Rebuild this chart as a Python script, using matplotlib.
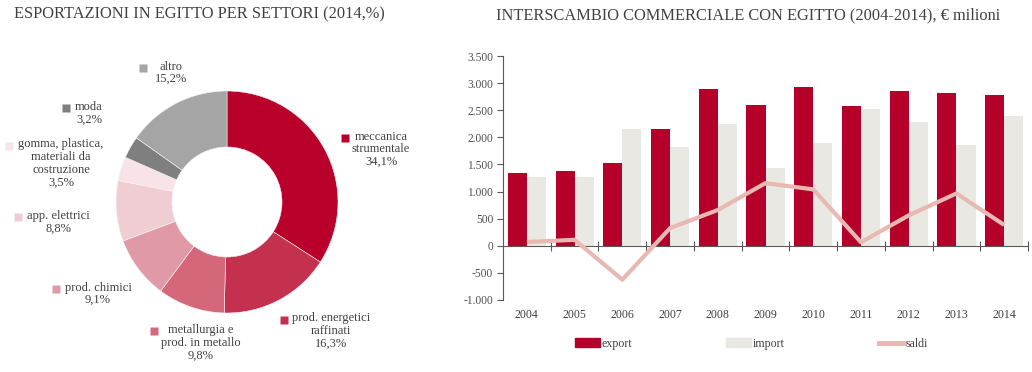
import numpy as np
import matplotlib
matplotlib.use("Agg")
import matplotlib.pyplot as plt
from matplotlib.ticker import FuncFormatter
from matplotlib.patches import Patch
from matplotlib.lines import Line2D

plt.rcParams['font.family'] = ['Liberation Serif', 'DejaVu Serif']

# dati: esportazioni per settore (2014, %)
settori = ["meccanica\nstrumentale", "prod. energetici\nraffinati",
           "metallurgia e\nprod. in metallo", "prod. chimici", "app. elettrici",
           "gomma, plastica,\nmateriali da\ncostruzione", "moda", "altro"]
quote = [34.1, 16.3, 9.8, 9.1, 8.8, 3.5, 3.2, 15.2]
colori_pie = ["#B8002A", "#C3314F", "#D4677A", "#E099A6", "#F0CDD3",
              "#F8E4E8", "#7F7F7F", "#A5A5A5"]

# dati: interscambio commerciale (milioni di euro)
anni = ["2004", "2005", "2006", "2007", "2008", "2009", "2010", "2011", "2012", "2013", "2014"]
export = [1340, 1380, 1535, 2145, 2900, 2590, 2930, 2585, 2850, 2825, 2775]
imports = [1270, 1270, 2160, 1820, 2240, 1435, 1890, 2520, 2290, 1860, 2390]
saldi = [70, 110, -625, 325, 660, 1155, 1040, 65, 560, 965, 385]

testo = "#404040"
W, H = 1032, 372
fig = plt.figure(figsize=(W / 100, H / 100), dpi=100)

# ---- torta (assi in pixel) ----
axp = fig.add_axes([0, 0, 420 / W, 1])
axp.pie(quote, colors=colori_pie, startangle=90, counterclock=False,
        center=(227, H - 202), radius=111,
        wedgeprops=dict(width=56, edgecolor="#f4f4f4", linewidth=0.4))
axp.set_xlim(0, 420)
axp.set_ylim(0, H)
axp.set_aspect('equal')
axp.axis('off')

# posizioni etichette: (marker x, marker y, centro testo x, prima riga y) in pixel
pos_etichette = [(345, 138, 381, 138), (284, 320, 331, 320), (154, 331, 201, 332),
                 (56, 289, 98, 289), (18, 217, 58, 218), (9, 146, 61, 146),
                 (66, 108, 89, 109), (143, 68, 171, 68)]
for nome, q, c, (mx, my, tx, ty) in zip(settori, quote, colori_pie, pos_etichette):
    axp.plot(mx, H - my, marker='s', ms=5.5, color=c, mec='none', clip_on=False)
    etichetta = nome + "\n" + f"{q:.1f}".replace(".", ",") + "%"
    axp.text(tx, H - ty + 7.5, etichetta, ha='center', va='top', fontsize=9,
             color=testo, linespacing=1.08, clip_on=False)

fig.text(14 / W, 1 - 14 / H, "ESPORTAZIONI IN EGITTO PER SETTORI (2014,%)",
         fontsize=11.8, color=testo, va='center', ha='left')

# ---- barre ----
x0, x1, ytop, ybot = 503, 1028, 56, 300
ax = fig.add_axes([x0 / W, (H - ybot) / H, (x1 - x0) / W, (ybot - ytop) / H])
x = np.arange(len(anni))
w = 0.4
ax.bar(x - w / 2, export, w, color="#B5002A", zorder=2)
ax.bar(x + w / 2, imports, w, color="#E9E8E3", zorder=2)
ax.plot(x, saldi, color="#E8B8B2", lw=3, zorder=3, solid_capstyle='butt')

ax.set_xlim(-0.5, len(anni) - 0.5)
ax.set_ylim(-1000, 3500)
ax.set_yticks(np.arange(-1000, 3501, 500))
ax.yaxis.set_major_formatter(FuncFormatter(lambda v, p: f"{int(v):,}".replace(",", ".")))
ax.tick_params(axis='y', length=4, width=0.8, color="#595959", labelsize=8.3,
               labelcolor="#505050", pad=3)
ax.spines['top'].set_visible(False)
ax.spines['right'].set_visible(False)
ax.spines['left'].set_color("#595959")
ax.spines['left'].set_linewidth(0.8)
ax.spines['bottom'].set_position(('data', 0))
ax.spines['bottom'].set_color("#595959")
ax.spines['bottom'].set_linewidth(0.8)
ax.set_xticks(x + 0.5)
ax.set_xticklabels([])
ax.tick_params(axis='x', direction='inout', length=7, width=0.8, color="#595959")
ax.set_facecolor('none')
for xi, a in zip(x, anni):
    ax.text(xi, -0.062, a, transform=ax.get_xaxis_transform(), ha='center',
            va='center', fontsize=8.6, color=testo)

fig.text(496 / W, 1 - 15 / H, "INTERSCAMBIO COMMERCIALE CON EGITTO (2004-2014), € milioni",
         fontsize=11.8, color=testo, va='center', ha='left')

maniglie = [Patch(color="#B5002A"), Patch(color="#E9E8E3"),
            Line2D([], [], color="#E8B8B2", lw=3.5)]
fig.legend(maniglie, ["export", "import", "saldi"], ncol=3, frameon=False,
           loc='center left', bbox_to_anchor=(575 / W, 1 - 344 / H),
           fontsize=8.6, handlelength=2.1, handleheight=0.8, handletextpad=0.1,
           columnspacing=7.9, borderpad=0, borderaxespad=0, labelcolor=testo)

fig.savefig("out.png", dpi=100)
